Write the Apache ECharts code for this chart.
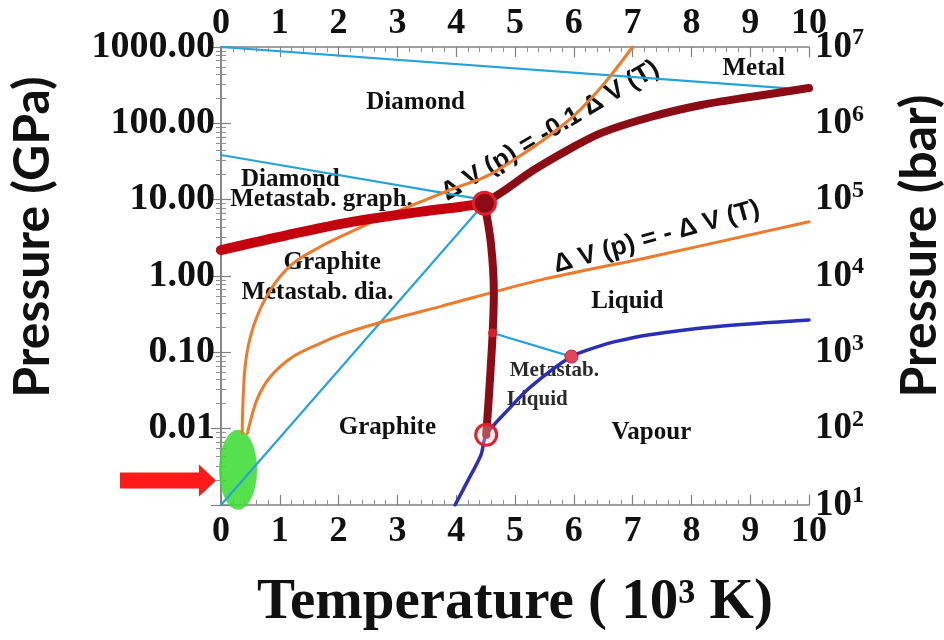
<!DOCTYPE html>
<html><head><meta charset="utf-8">
<script src="https://cdn.jsdelivr.net/npm/echarts@6/dist/echarts.min.js"></script>
<style>html,body{margin:0;padding:0;background:#fff}#c{width:944px;height:640px}</style>
</head><body><div id="c"></div>
<script>
// ---- tick labels ----
const xTickLabels = ['0','1','2','3','4','5','6','7','8','9','10'];
const leftTickLabels = ['', '0.01', '0.10', '1.00', '10.00', '100.00', '1000.00']; // exponents -3..3 (GPa)
const rightTickExps = ['1','2','3','4','5','6','7']; // bar = 10^n

// ---- phase boundaries (T in 10^3 K, P in GPa) ----
const graphDiaT = [0, 1.13, 2.25, 3.40, 4.08, 4.48];
const graphDiaP = [2.19, 3.44, 5.15, 6.97, 8.09, 9.0];
const diaLiqT = [4.48, 4.76, 5.32, 5.9, 6.47, 7.32, 8.17, 9.03, 10];
const diaLiqP = [9.0, 12.3, 24.5, 44.8, 75, 122, 174, 223, 290];
const graphLiqT = [4.48, 4.59, 4.64, 4.62, 4.56, 4.51];
const graphLiqP = [9.0, 2.70, 0.60, 0.179, 0.0293, 0.0083];
const vapT = [3.98, 4.2, 4.42, 4.51, 4.88, 5.27, 5.96, 6.41, 6.7, 7.26, 8.4, 10];
const vapP = [0.001, 0.0021, 0.0045, 0.0083, 0.0176, 0.0355, 0.088, 0.119, 0.138, 0.169, 0.217, 0.265];
const orangeUpT = [0.36, 0.41, 0.55, 0.84, 1.23, 1.69, 2.03, 2.71, 3.40, 3.96, 4.5, 5.0, 5.5, 6.0, 6.5, 7.0];
const orangeUpP = [0.0087, 0.065, 0.217, 0.656, 1.47, 2.42, 3.27, 5.7, 9.4, 14.1, 20, 34, 62, 125, 320, 1000];
const orangeLoT = [0.45, 0.61, 0.84, 1.23, 1.69, 2.03, 2.66, 3.74, 5.44, 7.32, 10];
const orangeLoP = [0.0087, 0.0238, 0.048, 0.088, 0.131, 0.169, 0.24, 0.40, 0.89, 1.79, 5.15];
const metalT = [0, 9.6];
const metalP = [1000, 290];
const diaMetaT = [0, 4.3];
const diaMetaP = [38.5, 10.5];
const spinT = [0, 4.48];
const spinP = [0.001, 9.0];
const liqMetaT = [4.62, 5.96];
const liqMetaP = [0.179, 0.088];

// ---- special points ----
const tripleT = [4.48], tripleP = [9.0];
const lowTripleT = [4.51], lowTripleP = [0.0083];
const midDotT = [4.62], midDotP = [0.179];
const metaDotT = [5.96], metaDotP = [0.088];
const greenT = [0.29], greenP = [0.0029];
const arrowP = 0.0021;

// ---- annotations ----
const regionNames = ['Diamond','Metal','Diamond','Metastab. graph.','Graphite','Metastab. dia.','Liquid','Graphite','Vapour'];
const regionT = [3.31, 9.06, 1.18, 1.71, 1.89, 1.64, 6.91, 2.83, 7.32];
const regionP = [185, 524, 18.1, 9.9, 1.48, 0.60, 0.457, 0.0105, 0.0090];
const smallNames = ['Metastab.', 'Liquid'];
const smallT = [5.67, 5.38];
const smallP = [0.057, 0.0238];
const eqNames = ['Δ V (p) = -0.1 Δ V (T)', 'Δ V (p) = - Δ V (T)'];
const eqT = [5.6, 7.41];
const eqP = [80, 3.24];
const eqAngle = [31, 15.5];

const zip = (a, b) => a.map((v, i) => [v, b[i]]);
const SERIF = '"Liberation Serif", "Times New Roman", serif';
const SANS_T = 'Lato, "Open Sans", sans-serif';

function lineSeries(T, P, color, width, smooth) {
  return { type: 'line', data: zip(T, P), showSymbol: false, symbol: 'none', smooth: smooth,
    lineStyle: { color: color, width: width, cap: 'round', join: 'round' }, silent: true, animation: false };
}

const axisCommon = {
  axisLine: { show: true, lineStyle: { color: '#808080', width: 1.5 } },
  axisTick: { show: true, inside: true, length: 10, lineStyle: { color: '#808080', width: 1.2 } },
  minorTick: { show: true, splitNumber: 5, length: 5, lineStyle: { color: '#909090', width: 1 } },
  splitLine: { show: false },
  axisLabel: { fontFamily: SERIF, fontWeight: 'bold', fontSize: 38, color: '#111' }
};

const chart = echarts.init(document.getElementById('c'), null, { renderer: 'canvas' });
const option = {
  backgroundColor: '#ffffff',
  animation: false,
  grid: { left: 221, right: 135, top: 47, bottom: 135, containLabel: false, outerBoundsMode: 'none' },
  xAxis: [
    Object.assign({}, axisCommon, { type: 'value', position: 'bottom', min: 0, max: 10, interval: 1,
      axisLabel: Object.assign({}, axisCommon.axisLabel, { fontSize: 36, margin: 9, formatter: v => xTickLabels[Math.round(v)] }),
      name: 'Temperature ( 10³ K)', nameLocation: 'middle', nameGap: 70,
      nameTextStyle: { fontFamily: SERIF, fontWeight: 'bold', fontSize: 57, color: '#111' } }),
    Object.assign({}, axisCommon, { type: 'value', position: 'top', min: 0, max: 10, interval: 1,
      axisLabel: Object.assign({}, axisCommon.axisLabel, { fontSize: 36, margin: 5, formatter: v => xTickLabels[Math.round(v)] }) })
  ],
  yAxis: [
    Object.assign({}, axisCommon, { type: 'log', logBase: 10, min: 0.001, max: 1000, position: 'left',
      minorTick: Object.assign({}, axisCommon.minorTick, { splitNumber: 8 }),
      axisLabel: Object.assign({}, axisCommon.axisLabel, { margin: 6,
        formatter: v => leftTickLabels[Math.round(Math.log10(v)) + 3] || '' }),
      name: 'Pressure (GPa)', nameLocation: 'middle', nameRotate: 90, nameGap: 163,
      nameTextStyle: { fontFamily: SANS_T, fontWeight: 'bold', fontSize: 50, color: '#111', padding: [0, 0, 0, 78] } }),
    Object.assign({}, axisCommon, { type: 'log', logBase: 10, min: 10, max: 1e7, position: 'right',
      minorTick: Object.assign({}, axisCommon.minorTick, { splitNumber: 8 }),
      axisLabel: Object.assign({}, axisCommon.axisLabel, { margin: 6,
        formatter: v => '{b|10}{s|' + rightTickExps[Math.round(Math.log10(v)) - 1] + '}',
        rich: { b: { fontFamily: SERIF, fontWeight: 'bold', fontSize: 37, color: '#111', lineHeight: 42 },
                s: { fontFamily: SERIF, fontWeight: 'bold', fontSize: 24, color: '#111', verticalAlign: 'top' } } }),
      name: 'Pressure (bar)', nameLocation: 'middle', nameRotate: 90, nameGap: 86,
      nameTextStyle: { fontFamily: SANS_T, fontWeight: 'bold', fontSize: 50, color: '#111', padding: [0, 0, 0, 60] } })
  ],
  series: [
    // green ellipse
    { type: 'scatter', data: zip(greenT, greenP), symbol: 'circle', symbolSize: [38, 80], clip: false,
      itemStyle: { color: '#3ddc35', opacity: 0.88 }, silent: true, z: 1 },
    // region labels
    { type: 'scatter', data: regionNames.map((n, i) => ({ name: n, value: [regionT[i], regionP[i]] })),
      symbolSize: 0, silent: true, z: 1, itemStyle: { opacity: 1 },
      label: { show: true, position: 'inside', formatter: '{b}', fontFamily: SERIF, fontWeight: 'bold', fontSize: 25, color: '#111', opacity: 1 } },
    { type: 'scatter', data: smallNames.map((n, i) => ({ name: n, value: [smallT[i], smallP[i]] })),
      symbolSize: 0, silent: true, z: 1, itemStyle: { opacity: 1 },
      label: { show: true, position: 'inside', formatter: '{b}', fontFamily: SERIF, fontWeight: 'bold', fontSize: 21, color: '#2a2a2a', opacity: 1 } },
    { type: 'scatter', data: eqNames.map((n, i) => ({ name: n, value: [eqT[i], eqP[i]], label: { rotate: eqAngle[i] } })),
      symbolSize: 0, silent: true, z: 1, itemStyle: { opacity: 1 },
      label: { show: true, position: 'inside', formatter: '{b}', fontFamily: '"Liberation Sans", Arial, sans-serif', fontWeight: 'bold', fontSize: 26, color: '#111', opacity: 1 } },
    lineSeries(metalT, metalP, '#27a3d8', 2.2, false),
    lineSeries(diaMetaT, diaMetaP, '#27a3d8', 2.2, false),
    lineSeries(spinT, spinP, '#27a3d8', 2.2, false),
    lineSeries(liqMetaT, liqMetaP, '#27a3d8', 2.2, false),
    lineSeries(orangeUpT, orangeUpP, '#f07a2c', 3, 0.3),
    lineSeries(orangeLoT, orangeLoP, '#f07a2c', 3, 0.3),
    lineSeries(vapT, vapP, '#2b2fb5', 3.5, 0.3),
    lineSeries(graphDiaT, graphDiaP, '#c4000e', 10, 0.3),
    lineSeries(diaLiqT, diaLiqP, '#8b0c14', 8, 0.3),
    lineSeries(graphLiqT, graphLiqP, '#8b0c14', 8, 0.3),
    { type: 'scatter', data: zip(tripleT, tripleP), symbolSize: 22, silent: true, z: 5,
      itemStyle: { color: '#8b0c14', borderColor: '#e0202c', borderWidth: 3, opacity: 1 } },
    { type: 'scatter', data: zip(lowTripleT, lowTripleP), symbolSize: 21, silent: true, z: 5,
      itemStyle: { color: 'rgba(255,200,200,0.35)', borderColor: '#e0202c', borderWidth: 3, opacity: 1 } },
    { type: 'scatter', data: zip(midDotT, midDotP), symbolSize: 9, silent: true, z: 5,
      itemStyle: { color: '#d81e2c', opacity: 1 } },
    { type: 'scatter', data: zip(metaDotT, metaDotP), symbolSize: 13, silent: true, z: 5,
      itemStyle: { color: '#e0485a', borderColor: '#d02030', borderWidth: 1, opacity: 1 } }
  ]
};
chart.setOption(option);

// red arrow annotation pointing at the green region (placed via the axis scale)
const ay = chart.convertToPixel({ yAxisIndex: 0 }, arrowP);
const ax = chart.convertToPixel({ xAxisIndex: 0 }, 0) - 5;
chart.setOption({
  graphic: [{
    type: 'polygon', silent: true, z: 10,
    shape: { points: [[ax - 96, ay - 8], [ax - 17, ay - 8], [ax - 17, ay - 16], [ax, ay], [ax - 17, ay + 16], [ax - 17, ay + 8], [ax - 96, ay + 8]] },
    style: { fill: '#ff1a1a' }
  }]
});
</script>
</body></html>
